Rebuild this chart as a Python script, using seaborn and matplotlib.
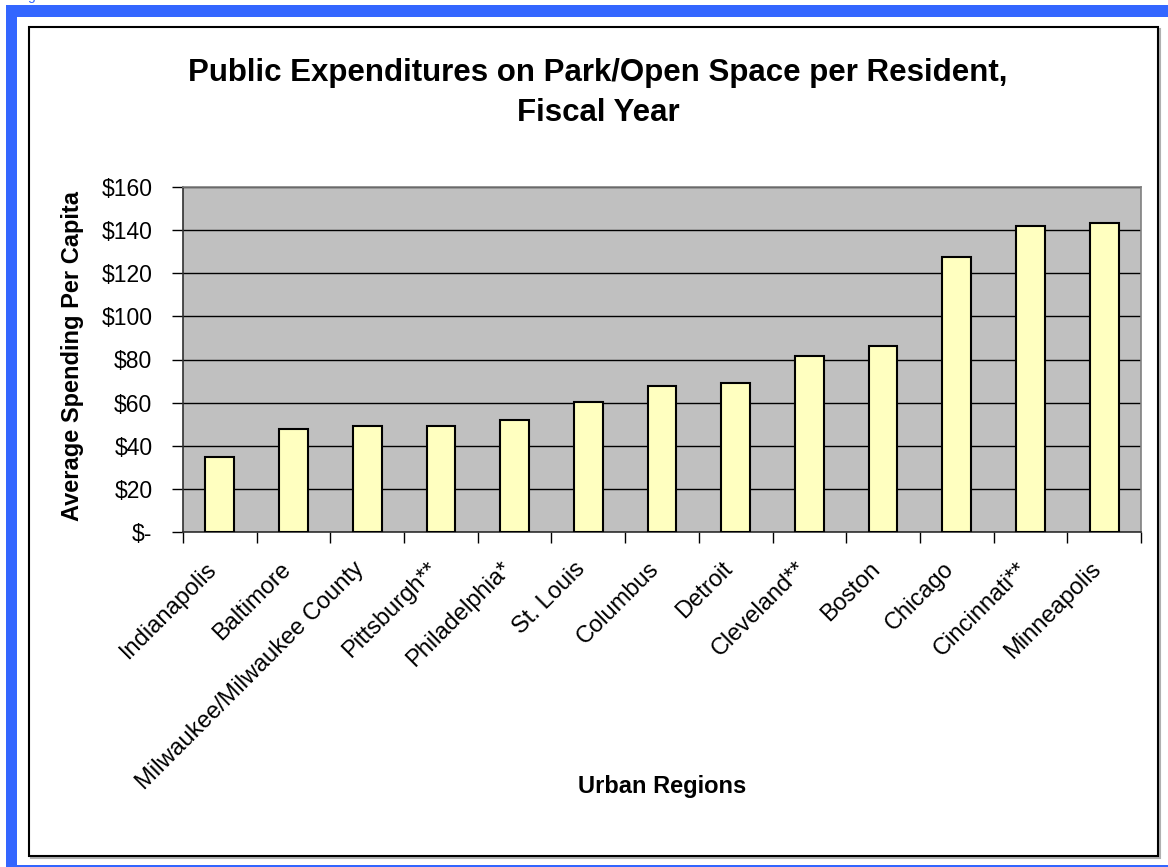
import matplotlib
matplotlib.use("Agg")
import matplotlib.pyplot as plt
from matplotlib.patches import Rectangle
from matplotlib.ticker import FixedLocator, FuncFormatter
from matplotlib.transforms import blended_transform_factory, ScaledTranslation
import seaborn as sns
import pandas as pd

# Spending per resident by urban region
regions = ["Indianapolis", "Baltimore", "Milwaukee/Milwaukee County", "Pittsburgh**",
           "Philadelphia*", "St. Louis", "Columbus", "Detroit", "Cleveland**",
           "Boston", "Chicago", "Cincinnati**", "Minneapolis"]
spending = [35.0, 47.6, 49.0, 49.0, 52.0, 60.2, 67.6, 69.2, 81.8, 86.3, 127.7, 142.0, 143.5]
y_ticks = [0, 20, 40, 60, 80, 100, 120, 140, 160]

title = "Public Expenditures on Park/Open Space per Resident,\nFiscal Year"
x_title = "Urban Regions"
y_title = "Average Spending Per Capita"

sns.set_style("white")
plt.rcParams["font.family"] = ["Liberation Sans", "DejaVu Sans"]
plt.rcParams["text.color"] = "black"
plt.rcParams["xtick.color"] = "black"
plt.rcParams["ytick.color"] = "black"
plt.rcParams["axes.labelcolor"] = "black"

W, H = 1168, 867
fig = plt.figure(figsize=(W / 100, H / 100), dpi=100)
fig.patch.set_facecolor("white")

def fx(px):
    return px / W

def fy(py):
    return 1 - py / H

# blue page frame
blue = "#3366FF"
fig.patches.append(Rectangle((fx(6), fy(17)), fx(W - 6), 12 / H, transform=fig.transFigure,
                             facecolor=blue, edgecolor="none", zorder=0))
fig.patches.append(Rectangle((fx(6), fy(867)), 11 / W, fy(17) - fy(867), transform=fig.transFigure,
                             facecolor=blue, edgecolor="none", zorder=0))
fig.patches.append(Rectangle((fx(6), fy(867)), fx(W - 6), 2 / H, transform=fig.transFigure,
                             facecolor=blue, edgecolor="none", zorder=0))
fig.text(fx(27), 1.0, "g", color=blue, fontsize=10, va="baseline", ha="left")

# chart box with a soft shadow
fig.patches.append(Rectangle((fx(31), fy(858)), (1160 - 31) / W, (858 - 29) / H,
                             transform=fig.transFigure, facecolor="none",
                             edgecolor="#b0b0b0", linewidth=1.5, zorder=1))
fig.patches.append(Rectangle((fx(29), fy(856)), (1158 - 29) / W, (856 - 27) / H,
                             transform=fig.transFigure, facecolor="white",
                             edgecolor="black", linewidth=1.5, zorder=1))

left, right, top, bottom = 183, 1141, 187, 532
ax = fig.add_axes([fx(left), fy(bottom), (right - left) / W, (bottom - top) / H], zorder=2)
ax.set_facecolor("#C0C0C0")

df = pd.DataFrame({"region": regions, "spending": spending})
sns.barplot(data=df, x="region", y="spending", color="#FFFFC0", saturation=1,
            edgecolor="black", linewidth=1.5, width=0.39, ax=ax, zorder=3)

ax.set_xlim(-0.5, len(regions) - 0.5)
ax.set_ylim(0, 160)
ax.yaxis.set_major_locator(FixedLocator(y_ticks))
ax.yaxis.set_major_formatter(FuncFormatter(lambda v, p: "$-" if v == 0 else f"${int(v)}"))
ax.grid(axis="y", color="black", linewidth=1.0)
ax.set_axisbelow(True)

ax.tick_params(axis="y", which="major", direction="out", length=8, width=1, color="black",
               labelsize=16.5, pad=14, left=True)

# category labels: slanted text hanging below each category centre
ax.set_xticks(range(len(regions)))
ax.set_xticklabels([])
ax.tick_params(axis="x", which="major", length=0)
ax.set_xticks([i - 0.5 for i in range(len(regions) + 1)], minor=True)
ax.tick_params(axis="x", which="minor", direction="out", length=8, width=1, color="black",
               bottom=True)
label_tf = blended_transform_factory(ax.transData, ax.transAxes) + \
    ScaledTranslation(-0.14, -0.26, fig.dpi_scale_trans)
for i, name in enumerate(regions):
    ax.text(i, 0, name, transform=label_tf, rotation=45, rotation_mode="anchor",
            ha="right", va="top", fontsize=17, clip_on=False)

for side in ("top", "right"):
    ax.spines[side].set_color("#808080")
    ax.spines[side].set_linewidth(1.2)
for side in ("left", "bottom"):
    ax.spines[side].set_color("#303030")
    ax.spines[side].set_linewidth(1.2)

ax.set_xlabel("")
ax.set_ylabel("")
fig.text(fx(662), fy(787), x_title, ha="center", va="center", fontsize=17, fontweight="bold")
fig.text(fx(73), fy(356), y_title, ha="center", va="center", rotation=90,
         fontsize=17, fontweight="bold")
fig.text(fx(598), fy(93), title, ha="center", va="center", fontsize=22.5,
         fontweight="bold", linespacing=1.45)

fig.savefig("out.png", dpi=100, facecolor="white")
